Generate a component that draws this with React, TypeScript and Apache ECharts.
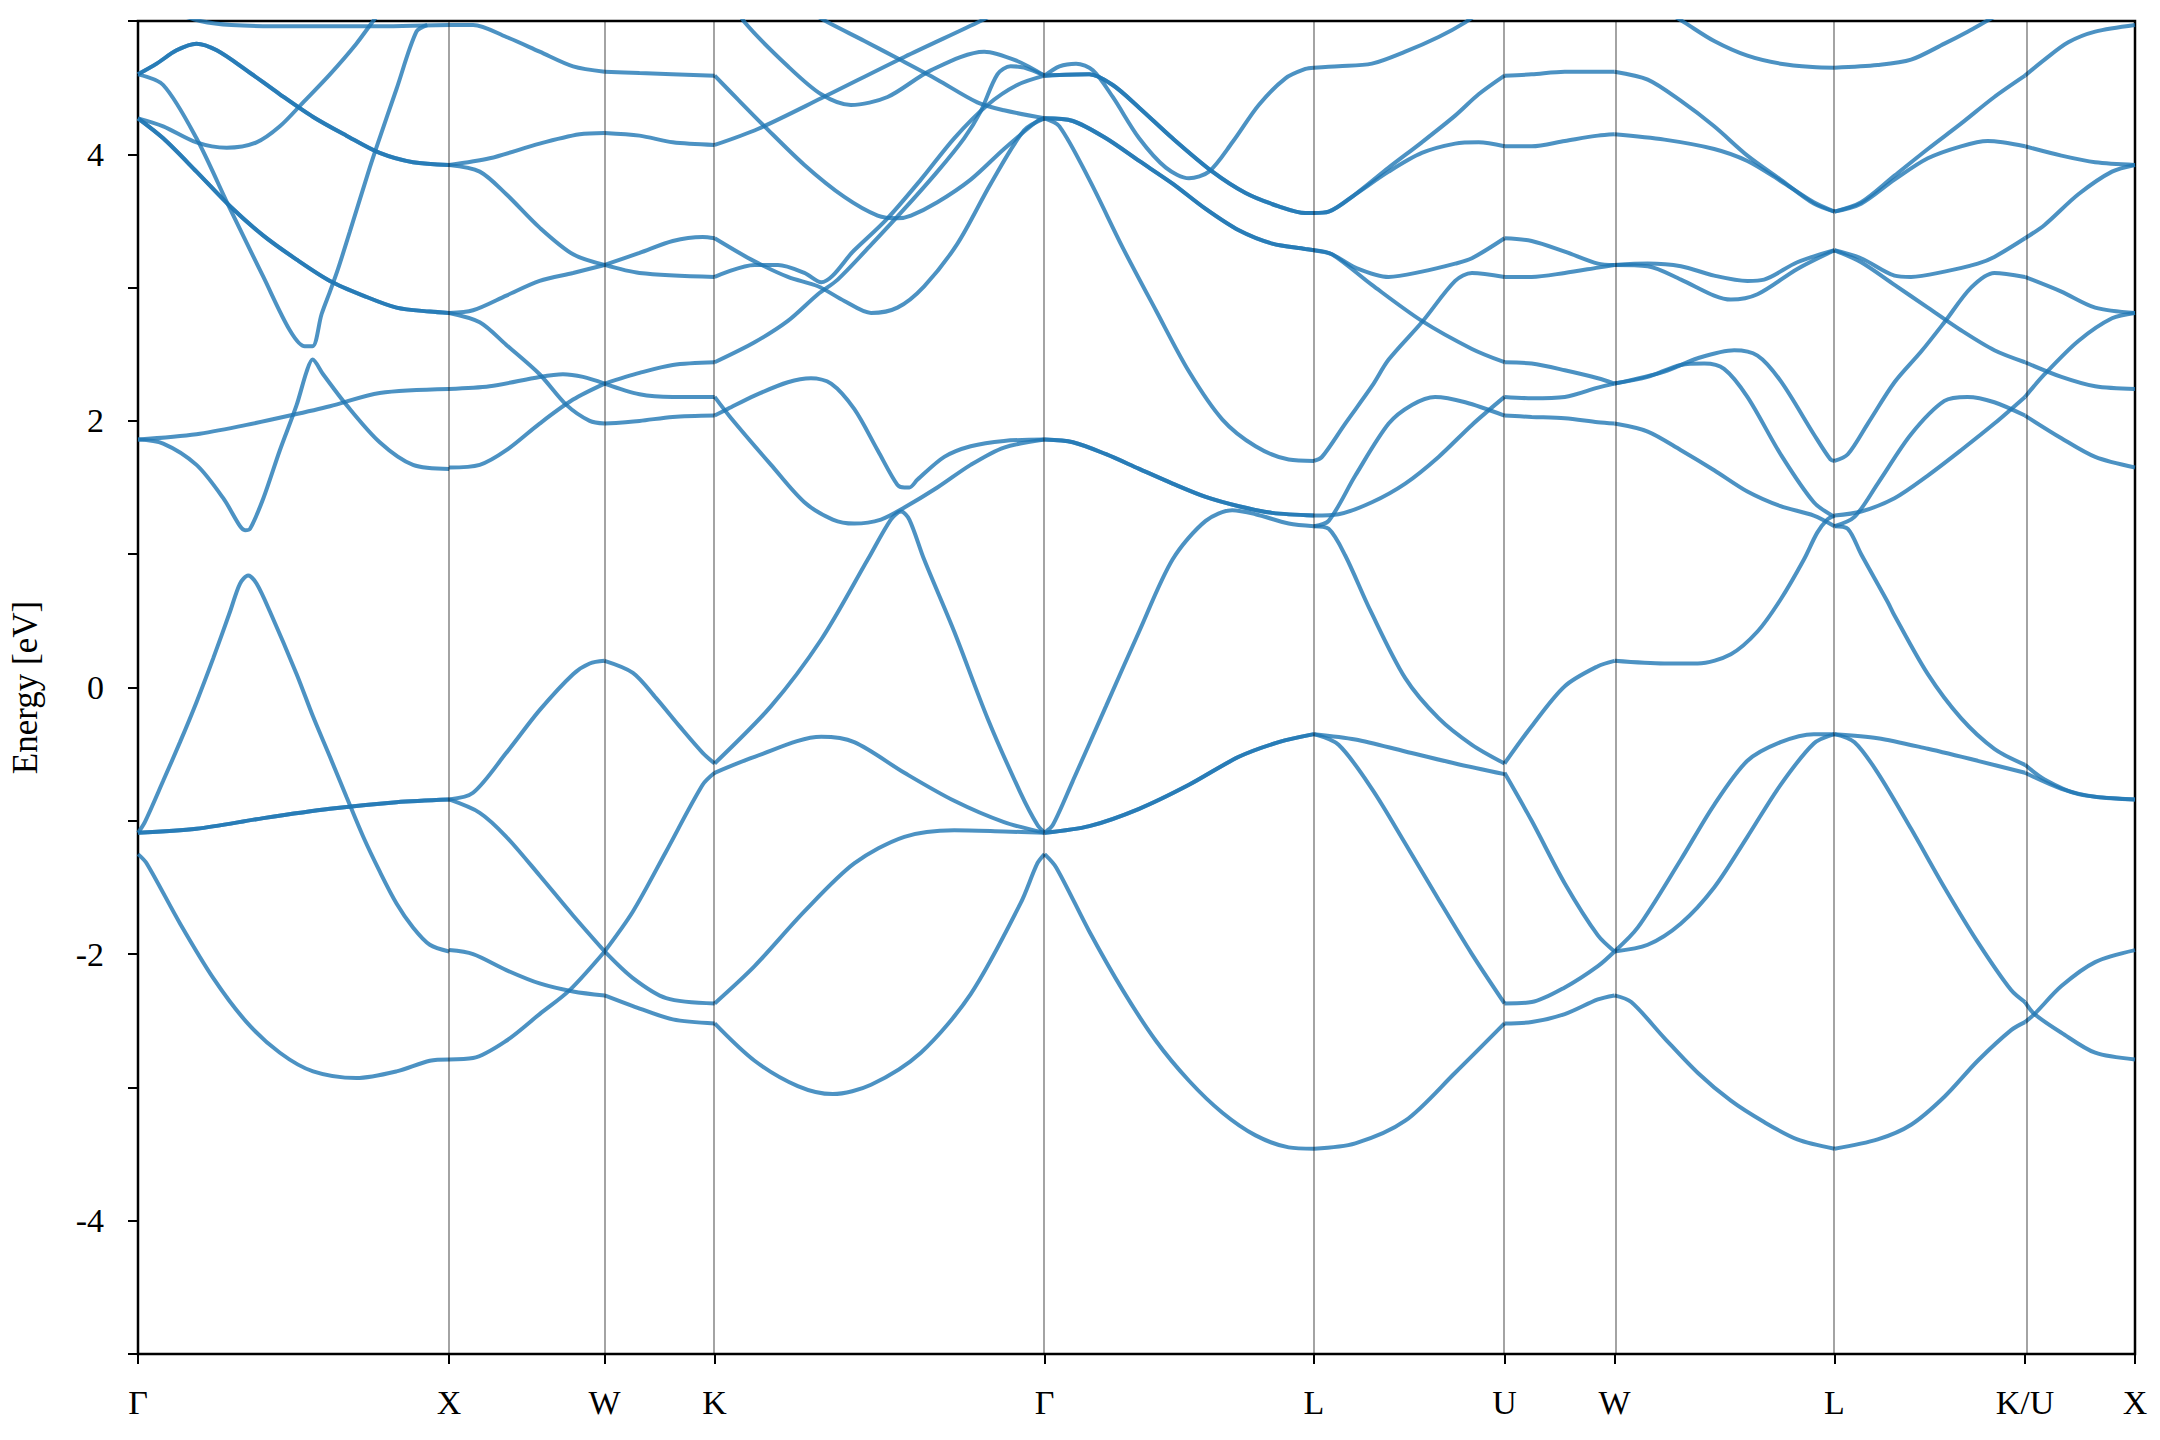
import React, { useEffect, useRef } from 'react';
import * as echarts from 'echarts';

// High-symmetry points along the k-path (cumulative path length, 2π/a units)
const kPoints = [0, 1, 1.5, 1.8536, 2.9142, 3.7802, 4.3926, 4.7462, 5.4533, 6.0657, 6.4193];
const kLabels = ['Γ', 'X', 'W', 'K', 'Γ', 'L', 'U', 'W', 'L', 'K/U', 'X'];
const energyTickLabels = [-4, -2, 0, 2, 4];

// Each band piece: [t, E] with t = fraction along the segment, E in eV
// ---- Γ – X ----
const gxA = [[0,4.60],[0.06,4.68],[0.124,4.78],[0.188,4.83],[0.253,4.78],[0.349,4.63],[0.456,4.45],[0.563,4.28],[0.67,4.14],[0.777,4.01],[0.884,3.94],[1,3.92]];
const gxD = [[0,4.27],[0.081,4.12],[0.188,3.87],[0.296,3.61],[0.403,3.39],[0.51,3.21],[0.617,3.05],[0.724,2.94],[0.831,2.85],[0.938,2.82],[1,2.81]];
const gxH = [[0,-1.09],[0.188,-1.06],[0.403,-0.98],[0.617,-0.91],[0.831,-0.86],[1,-0.84]];
const bandsGX = [
  gxA, gxA, gxD, gxD, gxH, gxH,
  [[0,4.60],[0.081,4.52],[0.188,4.12],[0.296,3.59],[0.403,3.08],[0.488,2.68],[0.536,2.56],[0.561,2.56],[0.59,2.80],[0.617,2.97],[0.643,3.14],[0.681,3.42],[0.745,3.90],[0.772,4.09],[0.831,4.49],[0.895,4.92],[0.93,4.97]],
  [[0,4.27],[0.081,4.21],[0.188,4.09],[0.285,4.05],[0.381,4.09],[0.456,4.21],[0.531,4.39],[0.617,4.60],[0.702,4.83],[0.756,5.0],[0.79,5.1]],
  [[0,1.86],[0.081,1.83],[0.188,1.67],[0.274,1.42],[0.328,1.21],[0.344,1.18],[0.36,1.19],[0.403,1.42],[0.456,1.78],[0.51,2.12],[0.542,2.37],[0.561,2.46],[0.595,2.35],[0.67,2.12],[0.777,1.84],[0.884,1.67],[1,1.64]],
  [[0,1.86],[0.188,1.90],[0.349,1.97],[0.488,2.04],[0.617,2.11],[0.777,2.21],[1,2.24]],
  [[0.12,5.06],[0.2,5.0],[0.3,4.97],[0.5,4.96],[0.75,4.96],[1,4.97]],
  [[0,-1.09],[0.022,-1.01],[0.081,-0.70],[0.135,-0.41],[0.188,-0.11],[0.242,0.22],[0.296,0.57],[0.328,0.78],[0.354,0.84],[0.381,0.78],[0.424,0.57],[0.51,0.10],[0.563,-0.22],[0.617,-0.52],[0.67,-0.82],[0.724,-1.12],[0.777,-1.38],[0.831,-1.62],[0.884,-1.80],[0.938,-1.93],[1,-1.98]],
  [[0,-1.25],[0.028,-1.32],[0.135,-1.77],[0.242,-2.18],[0.349,-2.51],[0.456,-2.74],[0.563,-2.88],[0.702,-2.93],[0.831,-2.88],[0.938,-2.80],[1,-2.79]],
];
// ---- X – W ----
const bandsXW = [
  [[0,4.97],[0.154,4.97],[0.368,4.88],[0.582,4.77],[0.797,4.66],[1,4.62]],
  [[0,3.92],[0.261,3.97],[0.582,4.08],[0.839,4.15],[1,4.16]],
  [[0,3.92],[0.197,3.87],[0.368,3.70],[0.582,3.45],[0.797,3.25],[1,3.17]],
  [[0,2.81],[0.154,2.83],[0.368,2.94],[0.582,3.05],[0.797,3.11],[1,3.17]],
  [[0,2.81],[0.197,2.74],[0.368,2.57],[0.582,2.35],[0.754,2.12],[0.904,2.00],[1,1.98]],
  [[0,2.24],[0.261,2.26],[0.582,2.33],[0.732,2.35],[0.861,2.33],[1,2.28]],
  [[0,1.65],[0.197,1.67],[0.368,1.78],[0.582,1.98],[0.797,2.16],[1,2.28]],
  [[0,-0.84],[0.154,-0.79],[0.368,-0.49],[0.582,-0.17],[0.797,0.10],[0.904,0.18],[1,0.20]],
  [[0,-0.84],[0.197,-0.94],[0.368,-1.12],[0.582,-1.41],[0.797,-1.71],[1,-1.98]],
  [[0,-1.97],[0.154,-2.00],[0.368,-2.12],[0.582,-2.22],[0.797,-2.28],[1,-2.31]],
  [[0,-2.79],[0.154,-2.78],[0.368,-2.65],[0.582,-2.45],[0.775,-2.27],[1,-1.98]],
];
// ---- W – K ----
const bandsWK = [
  [[0,4.62],[0.317,4.61],[1,4.59]],
  [[0,4.16],[0.317,4.14],[0.619,4.09],[1,4.07]],
  [[0,3.17],[0.317,3.11],[1,3.08]],
  [[0,3.17],[0.317,3.26],[0.619,3.35],[0.891,3.38],[1,3.37]],
  [[0,1.98],[0.317,2.00],[0.619,2.03],[1,2.04]],
  [[0,2.28],[0.317,2.20],[0.619,2.18],[1,2.18]],
  [[0,2.28],[0.317,2.36],[0.619,2.42],[1,2.44]],
  [[0,0.20],[0.257,0.11],[0.468,-0.08],[0.68,-0.29],[0.891,-0.49],[1,-0.57]],
  [[0,-1.98],[0.257,-2.18],[0.559,-2.33],[1,-2.37]],
  [[0,-2.31],[0.257,-2.39],[0.619,-2.49],[1,-2.52]],
  [[0,-1.98],[0.257,-1.68],[0.559,-1.23],[0.891,-0.73],[1,-0.64]],
];
// ---- K – Γ ----
const bandsKG = [
  [[0.06,5.14],[0.091,4.99],[0.222,4.66],[0.323,4.45],[0.413,4.37],[0.524,4.43],[0.655,4.63],[0.817,4.77],[0.917,4.70],[1,4.59]],
  [[0,4.59],[0.071,4.41],[0.151,4.21],[0.272,3.92],[0.393,3.68],[0.494,3.54],[0.554,3.52],[0.595,3.54],[0.675,3.64],[0.776,3.81],[0.877,4.04],[0.978,4.25],[1,4.27]],
  [[0,4.07],[0.131,4.19],[0.323,4.42],[0.575,4.73],[0.806,5.0],[0.85,5.06]],
  [[0.302,5.05],[0.343,4.99],[0.454,4.85],[0.554,4.72],[0.675,4.56],[0.796,4.39],[0.877,4.33],[1,4.27]],
  [[0,3.37],[0.111,3.21],[0.222,3.08],[0.313,3.01],[0.393,2.90],[0.474,2.81],[0.554,2.85],[0.635,3.01],[0.736,3.33],[0.837,3.78],[0.938,4.18],[1,4.27]],
  [[0,3.08],[0.121,3.17],[0.192,3.17],[0.272,3.11],[0.323,3.04],[0.423,3.28],[0.524,3.52],[0.625,3.81],[0.726,4.12],[0.827,4.37],[0.917,4.52],[1,4.59]],
  [[0,2.44],[0.121,2.59],[0.222,2.75],[0.313,2.95],[0.373,3.06],[0.474,3.32],[0.575,3.59],[0.675,3.87],[0.756,4.12],[0.806,4.32],[0.857,4.60],[0.897,4.66],[0.938,4.65],[1,4.59]],
  [[0,2.04],[0.04,2.09],[0.121,2.19],[0.222,2.29],[0.292,2.32],[0.353,2.28],[0.423,2.09],[0.494,1.78],[0.554,1.52],[0.575,1.50],[0.59,1.50],[0.615,1.56],[0.696,1.73],[0.776,1.81],[0.877,1.85],[1,1.86]],
  [[0,2.18],[0.05,2.02],[0.171,1.67],[0.272,1.39],[0.358,1.26],[0.423,1.23],[0.504,1.26],[0.575,1.35],[0.675,1.50],[0.776,1.67],[0.877,1.80],[1,1.86]],
  [[0,-0.57],[0.171,-0.14],[0.323,0.36],[0.464,0.96],[0.534,1.26],[0.565,1.32],[0.59,1.26],[0.635,0.96],[0.726,0.42],[0.827,-0.23],[0.927,-0.79],[0.978,-1.03],[1,-1.09]],
  [[0,-0.64],[0.121,-0.52],[0.323,-0.37],[0.423,-0.41],[0.575,-0.64],[0.726,-0.85],[0.877,-1.01],[1,-1.09]],
  [[0,-2.37],[0.121,-2.09],[0.272,-1.68],[0.423,-1.32],[0.575,-1.12],[0.726,-1.07],[0.877,-1.08],[1,-1.09]],
  [[0,-2.52],[0.121,-2.80],[0.252,-2.99],[0.358,-3.05],[0.474,-2.98],[0.625,-2.74],[0.776,-2.30],[0.927,-1.62],[0.978,-1.32],[1,-1.25]],
];
// ---- Γ – L ----
const glB = [[0,4.59],[0.166,4.60],[0.253,4.52],[0.351,4.35],[0.475,4.12],[0.623,3.87],[0.746,3.71],[0.869,3.61],[0.968,3.56],[1,3.56]];
const glC = [[0,4.27],[0.105,4.25],[0.228,4.12],[0.351,3.95],[0.475,3.78],[0.598,3.59],[0.721,3.43],[0.845,3.33],[0.968,3.29],[1,3.28]];
const glE = [[0,1.86],[0.105,1.84],[0.228,1.75],[0.351,1.64],[0.475,1.53],[0.598,1.43],[0.721,1.36],[0.845,1.31],[1,1.29]];
const glG = [[0,-1.09],[0.166,-1.04],[0.351,-0.91],[0.536,-0.73],[0.721,-0.52],[0.869,-0.41],[1,-0.35]];
const bandsGL = [
  glB, glB, glC, glC, glE, glE, glG, glG,
  [[0,4.59],[0.055,4.66],[0.117,4.68],[0.179,4.63],[0.253,4.43],[0.351,4.12],[0.45,3.90],[0.536,3.82],[0.61,3.87],[0.697,4.09],[0.795,4.37],[0.894,4.57],[0.968,4.64],[1,4.65]],
  [[0,4.27],[0.055,4.21],[0.166,3.81],[0.29,3.30],[0.413,2.83],[0.536,2.37],[0.66,2.01],[0.783,1.81],[0.906,1.71],[1,1.70]],
  [[0,-1.09],[0.031,-1.03],[0.105,-0.70],[0.228,-0.14],[0.351,0.42],[0.475,0.96],[0.598,1.25],[0.697,1.33],[0.783,1.30],[0.906,1.23],[1,1.21]],
  [[0,-1.25],[0.043,-1.35],[0.166,-1.83],[0.29,-2.27],[0.413,-2.65],[0.536,-2.95],[0.66,-3.19],[0.783,-3.36],[0.906,-3.45],[1,-3.46]],
];
// ---- L – U ----
const bandsLU = [
  [[0,4.65],[0.129,4.66],[0.304,4.68],[0.479,4.77],[0.654,4.88],[0.794,4.99],[0.88,5.08]],
  [[0,3.56],[0.077,3.57],[0.217,3.70],[0.392,3.90],[0.566,4.09],[0.741,4.29],[0.864,4.45],[1,4.59]],
  [[0,3.56],[0.077,3.57],[0.217,3.70],[0.392,3.87],[0.566,4.01],[0.741,4.08],[0.864,4.09],[1,4.06]],
  [[0,3.28],[0.094,3.25],[0.217,3.15],[0.392,3.08],[0.566,3.12],[0.741,3.18],[0.829,3.22],[1,3.37]],
  [[0,3.28],[0.094,3.25],[0.304,3.02],[0.566,2.75],[0.829,2.54],[1,2.44]],
  [[0,1.70],[0.042,1.73],[0.164,1.98],[0.304,2.26],[0.392,2.46],[0.566,2.74],[0.741,3.05],[0.829,3.11],[1,3.08]],
  [[0,1.29],[0.129,1.30],[0.304,1.39],[0.479,1.53],[0.654,1.73],[0.829,1.97],[1,2.18]],
  [[0,1.21],[0.077,1.25],[0.217,1.59],[0.392,1.98],[0.514,2.12],[0.636,2.18],[0.794,2.14],[1,2.04]],
  [[0,1.21],[0.077,1.19],[0.164,0.99],[0.295,0.58],[0.479,0.07],[0.654,-0.23],[0.829,-0.43],[1,-0.57]],
  [[0,-0.35],[0.217,-0.39],[0.479,-0.48],[0.741,-0.57],[1,-0.65]],
  [[0,-0.35],[0.129,-0.43],[0.304,-0.76],[0.479,-1.17],[0.654,-1.59],[0.829,-2.00],[1,-2.37]],
  [[0,-3.46],[0.217,-3.42],[0.479,-3.25],[0.741,-2.89],[1,-2.52]],
];
// ---- U – W ----
const bandsUW = [
  [[0,4.59],[0.247,4.60],[0.548,4.62],[1,4.62]],
  [[0,4.06],[0.247,4.06],[0.548,4.10],[0.849,4.14],[1,4.15]],
  [[0,3.37],[0.247,3.35],[0.548,3.27],[0.849,3.18],[1,3.17]],
  [[0,3.08],[0.247,3.08],[0.548,3.11],[0.849,3.15],[1,3.17]],
  [[0,2.44],[0.247,2.43],[0.548,2.38],[0.849,2.32],[1,2.28]],
  [[0,2.18],[0.247,2.17],[0.548,2.18],[0.849,2.25],[1,2.28]],
  [[0,2.04],[0.247,2.03],[0.548,2.02],[0.849,1.99],[1,1.98]],
  [[0,-0.57],[0.247,-0.29],[0.548,0.01],[0.849,0.16],[1,0.20]],
  [[0,-0.64],[0.247,-1.00],[0.548,-1.47],[0.849,-1.86],[1,-1.98]],
  [[0,-2.37],[0.247,-2.36],[0.548,-2.25],[0.849,-2.09],[1,-1.98]],
  [[0,-2.52],[0.247,-2.51],[0.548,-2.45],[0.849,-2.34],[1,-2.31]],
];
// ---- W – L ----
const bandsWL = [
  [[0.257,5.05],[0.317,4.99],[0.453,4.85],[0.604,4.74],[0.755,4.68],[0.9,4.655],[1,4.65]],
  [[0,4.62],[0.151,4.56],[0.302,4.40],[0.453,4.21],[0.604,3.99],[0.755,3.81],[0.906,3.63],[1,3.57]],
  [[0,4.15],[0.227,4.11],[0.453,4.04],[0.604,3.95],[0.755,3.80],[0.906,3.64],[1,3.57]],
  [[0,3.17],[0.151,3.18],[0.302,3.16],[0.453,3.09],[0.604,3.05],[0.68,3.06],[0.831,3.19],[1,3.28]],
  [[0,3.17],[0.151,3.16],[0.302,3.06],[0.453,2.94],[0.529,2.91],[0.65,2.95],[0.831,3.14],[1,3.28]],
  [[0,2.28],[0.151,2.33],[0.302,2.42],[0.408,2.43],[0.498,2.39],[0.604,2.18],[0.755,1.75],[0.906,1.39],[1,1.28]],
  [[0,2.28],[0.227,2.37],[0.378,2.47],[0.544,2.53],[0.65,2.49],[0.755,2.30],[0.906,1.90],[0.982,1.71],[1,1.70]],
  [[0,1.98],[0.151,1.92],[0.302,1.78],[0.453,1.63],[0.604,1.47],[0.755,1.36],[0.906,1.29],[1,1.21]],
  [[0,0.20],[0.227,0.18],[0.378,0.18],[0.529,0.25],[0.65,0.42],[0.755,0.66],[0.861,0.96],[0.921,1.16],[0.967,1.26],[1,1.29]],
  [[0,-1.98],[0.106,-1.80],[0.302,-1.29],[0.453,-0.88],[0.604,-0.55],[0.755,-0.41],[0.906,-0.35],[1,-0.35]],
  [[0,-1.98],[0.151,-1.93],[0.302,-1.77],[0.453,-1.50],[0.604,-1.12],[0.755,-0.73],[0.906,-0.42],[1,-0.35]],
  [[0,-2.31],[0.076,-2.36],[0.227,-2.63],[0.378,-2.89],[0.529,-3.10],[0.68,-3.26],[0.831,-3.39],[1,-3.46]],
];
// ---- L – K/U ----
const bandsLK = [
  [[0,4.65],[0.227,4.67],[0.402,4.71],[0.577,4.83],[0.699,4.92],[0.787,4.99],[0.874,5.06]],
  [[0,3.57],[0.14,3.64],[0.315,3.84],[0.49,4.04],[0.664,4.23],[0.839,4.43],[1,4.59]],
  [[0,3.57],[0.14,3.63],[0.315,3.81],[0.49,3.97],[0.664,4.06],[0.804,4.10],[1,4.06]],
  [[0,3.28],[0.14,3.22],[0.315,3.09],[0.402,3.08],[0.577,3.12],[0.752,3.18],[0.839,3.23],[1,3.37]],
  [[0,3.28],[0.14,3.19],[0.315,3.02],[0.49,2.85],[0.664,2.68],[0.839,2.53],[1,2.44]],
  [[0,1.70],[0.07,1.75],[0.175,1.98],[0.315,2.29],[0.455,2.52],[0.577,2.74],[0.717,3.0],[0.839,3.11],[1,3.08]],
  [[0,1.29],[0.14,1.32],[0.315,1.42],[0.49,1.59],[0.664,1.78],[0.839,1.98],[1,2.18]],
  [[0,1.21],[0.105,1.28],[0.227,1.53],[0.402,1.90],[0.577,2.15],[0.699,2.18],[0.839,2.14],[1,2.04]],
  [[0,1.21],[0.07,1.19],[0.14,1.0],[0.28,0.64],[0.315,0.54],[0.49,0.10],[0.664,-0.23],[0.839,-0.46],[1,-0.58]],
  [[0,-0.35],[0.227,-0.38],[0.49,-0.46],[0.752,-0.55],[1,-0.64]],
  [[0,-0.35],[0.105,-0.41],[0.227,-0.64],[0.402,-1.06],[0.577,-1.50],[0.752,-1.91],[0.927,-2.27],[1,-2.36]],
  [[0,-3.46],[0.227,-3.39],[0.402,-3.28],[0.577,-3.07],[0.752,-2.80],[0.927,-2.57],[1,-2.51]],
];
// ---- K/U – X ----
const bandsKX = [
  [[0,4.59],[0.178,4.71],[0.393,4.84],[0.638,4.92],[1,4.97]],
  [[0,4.06],[0.331,3.99],[0.638,3.94],[1,3.92]],
  [[0,3.37],[0.178,3.47],[0.485,3.70],[0.791,3.87],[1,3.92]],
  [[0,2.44],[0.331,2.33],[0.638,2.26],[1,2.24]],
  [[0,3.08],[0.331,2.97],[0.638,2.85],[1,2.81]],
  [[0,2.18],[0.178,2.35],[0.485,2.60],[0.791,2.77],[1,2.81]],
  [[0,2.04],[0.331,1.87],[0.638,1.73],[1,1.65]],
  [[0,-0.58],[0.178,-0.69],[0.485,-0.80],[1,-0.84]],
  [[0,-0.64],[0.331,-0.76],[0.638,-0.82],[1,-0.84]],
  [[0,-2.36],[0.086,-2.45],[0.331,-2.59],[0.638,-2.74],[1,-2.79]],
  [[0,-2.51],[0.086,-2.45],[0.331,-2.24],[0.638,-2.06],[1,-1.97]],
];

const segments = [bandsGX, bandsXW, bandsWK, bandsKG, bandsGL, bandsLU, bandsUW, bandsWL, bandsLK, bandsKX];

export default function App() {
  const ref = useRef<HTMLDivElement>(null);
  useEffect(() => {
    if (!ref.current) return;
    const chart = echarts.init(ref.current, null, { renderer: 'svg' });
    const font = '"Liberation Serif", "Times New Roman", serif';
    const series: any[] = [];
    segments.forEach((lines, s) => {
      const k0 = kPoints[s];
      const k1 = kPoints[s + 1];
      lines.forEach((line) => {
        series.push({
          type: 'line',
          data: line.map(([t, e]) => [k0 + t * (k1 - k0), e]),
          symbol: 'none',
          showSymbol: false,
          smooth: 0.3,
          silent: true,
          clip: true,
          z: 3,
          lineStyle: { color: '#1f77b4', width: 4, opacity: 0.8 },
        });
      });
    });
    series.push({
      type: 'line',
      data: [[0, -6]],
      symbol: 'none',
      silent: true,
      z: 2,
      lineStyle: { opacity: 0 },
      markLine: {
        symbol: ['none', 'none'],
        silent: true,
        label: { show: false },
        lineStyle: { color: '#000', opacity: 0.45, width: 1.6, type: 'solid' },
        data: kPoints.slice(1, -1).map((k) => ({ xAxis: k })),
      },
    });
    const labelFor = (v: number) => {
      const i = kPoints.findIndex((k) => Math.abs(k - v) < 1e-6);
      return i >= 0 ? kLabels[i] : '';
    };
    chart.setOption({
      animation: false,
      backgroundColor: '#ffffff',
      grid: {
        left: 138, right: 25, top: 21, bottom: 86,
        show: true, borderColor: '#000', borderWidth: 2.5, backgroundColor: 'transparent',
      },
      xAxis: {
        type: 'value',
        min: 0,
        max: kPoints[kPoints.length - 1],
        axisLine: { show: false, onZero: false },
        splitLine: { show: false },
        axisTick: { show: true, customValues: kPoints, length: 10, lineStyle: { color: '#000', width: 2 } },
        axisLabel: {
          customValues: kPoints,
          formatter: (v: number) => labelFor(v),
          showMinLabel: true,
          showMaxLabel: true,
          hideOverlap: false,
          margin: 31,
          color: '#000',
          fontFamily: font,
          fontSize: 34,
        },
      },
      yAxis: {
        type: 'value',
        min: -5,
        max: 5,
        interval: 1,
        axisLine: { show: false, onZero: false },
        splitLine: { show: false },
        axisTick: { show: true, length: 10, lineStyle: { color: '#000', width: 2 } },
        axisLabel: {
          formatter: (v: number) => (energyTickLabels.indexOf(v) >= 0 ? String(v) : ''),
          margin: 34,
          color: '#000',
          fontFamily: font,
          fontSize: 34,
        },
        name: 'Energy [eV]',
        nameLocation: 'middle',
        nameGap: 95,
        nameTextStyle: { color: '#000', fontFamily: font, fontSize: 35 },
      },
      series,
    });
    return () => chart.dispose();
  }, []);
  return (
    <div
      ref={ref}
      style={{ position: 'fixed', left: 0, top: 0, width: 2160, height: 1440, background: '#fff' }}
    />
  );
}
